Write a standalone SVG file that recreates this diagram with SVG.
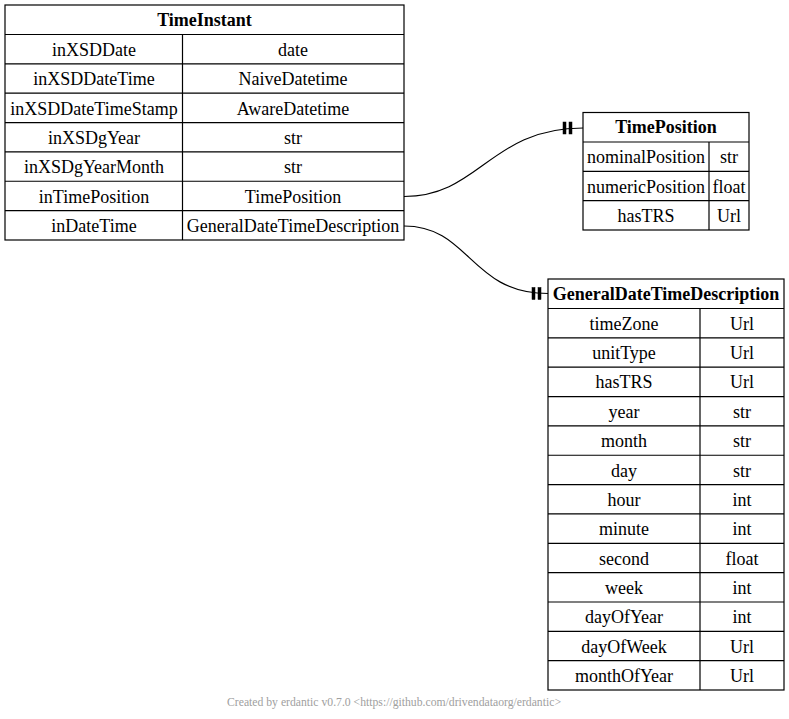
<svg xmlns="http://www.w3.org/2000/svg" width="789" height="719" viewBox="0 0 789 719">
<style>
.box{fill:#fff;stroke:#000;stroke-width:1.2}
.ln{stroke:#000;stroke-width:1.2;fill:none}
text{font-family:"Liberation Serif","Times New Roman",serif;font-size:18px;fill:#000;text-anchor:middle}
.h{font-weight:bold}
.edge{fill:none;stroke:#000;stroke-width:1.2}
.tee{fill:#000;stroke:#000;stroke-width:0.5}
.foot{font-size:11.7px;fill:#a0a0a0}
</style>
<rect width="789" height="719" fill="#fff"/>
<g id="connectors">
  <path class="edge" d="M404,196.5 C480,196.5 490,128 583,128"/>
  <rect class="tee" x="563" y="122" width="3" height="12"/>
  <rect class="tee" x="569" y="122" width="3" height="12"/>
  <path class="edge" d="M404,226 C470,226 470,293.5 548,293.5"/>
  <rect class="tee" x="532" y="287.5" width="3" height="12"/>
  <rect class="tee" x="538" y="287.5" width="3" height="12"/>
</g>
<g id="TimeInstant">
  <rect class="box" x="5" y="5" width="399" height="235"/>
  <path class="ln" d="M5,34.5H404M5,63.85H404M5,93.2H404M5,122.55H404M5,151.9H404M5,181.25H404M5,210.6H404M182.5,34.5V240"/>
  <text class="h" x="204.5" y="25.5">TimeInstant</text>
  <text x="94" y="55.8">inXSDDate</text><text x="293" y="55.8">date</text>
  <text x="94" y="85.2">inXSDDateTime</text><text x="293" y="85.2">NaiveDatetime</text>
  <text x="94" y="114.5">inXSDDateTimeStamp</text><text x="293" y="114.5">AwareDatetime</text>
  <text x="94" y="143.9">inXSDgYear</text><text x="293" y="143.9">str</text>
  <text x="94" y="173.2">inXSDgYearMonth</text><text x="293" y="173.2">str</text>
  <text x="94" y="202.6">inTimePosition</text><text x="293" y="202.6">TimePosition</text>
  <text x="94" y="231.9">inDateTime</text><text x="293" y="231.9">GeneralDateTimeDescription</text>
</g>
<g id="TimePosition">
  <rect class="box" x="583" y="112.5" width="166" height="117.5"/>
  <path class="ln" d="M583,142H749M583,171.35H749M583,200.7H749M709,142V230"/>
  <text class="h" x="666" y="133">TimePosition</text>
  <text x="646" y="163.3">nominalPosition</text><text x="729" y="163.3">str</text>
  <text x="646" y="192.7">numericPosition</text><text x="729" y="192.7">float</text>
  <text x="646" y="222">hasTRS</text><text x="729" y="222">Url</text>
</g>
<g id="GeneralDateTimeDescription">
  <rect class="box" x="548" y="279" width="236" height="411"/>
  <path class="ln" d="M548,308.5H784M548,337.85H784M548,367.2H784M548,396.55H784M548,425.9H784M548,455.25H784M548,484.6H784M548,513.95H784M548,543.3H784M548,572.65H784M548,602H784M548,631.35H784M548,660.7H784M700,308.5V690"/>
  <text class="h" x="666" y="299.5">GeneralDateTimeDescription</text>
  <text x="624" y="329.7">timeZone</text><text x="742" y="329.7">Url</text>
  <text x="624" y="359.1">unitType</text><text x="742" y="359.1">Url</text>
  <text x="624" y="388.4">hasTRS</text><text x="742" y="388.4">Url</text>
  <text x="624" y="417.8">year</text><text x="742" y="417.8">str</text>
  <text x="624" y="447.1">month</text><text x="742" y="447.1">str</text>
  <text x="624" y="476.5">day</text><text x="742" y="476.5">str</text>
  <text x="624" y="505.8">hour</text><text x="742" y="505.8">int</text>
  <text x="624" y="535.2">minute</text><text x="742" y="535.2">int</text>
  <text x="624" y="564.5">second</text><text x="742" y="564.5">float</text>
  <text x="624" y="593.9">week</text><text x="742" y="593.9">int</text>
  <text x="624" y="623.2">dayOfYear</text><text x="742" y="623.2">int</text>
  <text x="624" y="652.6">dayOfWeek</text><text x="742" y="652.6">Url</text>
  <text x="624" y="681.9">monthOfYear</text><text x="742" y="681.9">Url</text>
</g>
<text class="foot" x="394" y="706">Created by erdantic v0.7.0 &lt;https://github.com/drivendataorg/erdantic&gt;</text>
</svg>
